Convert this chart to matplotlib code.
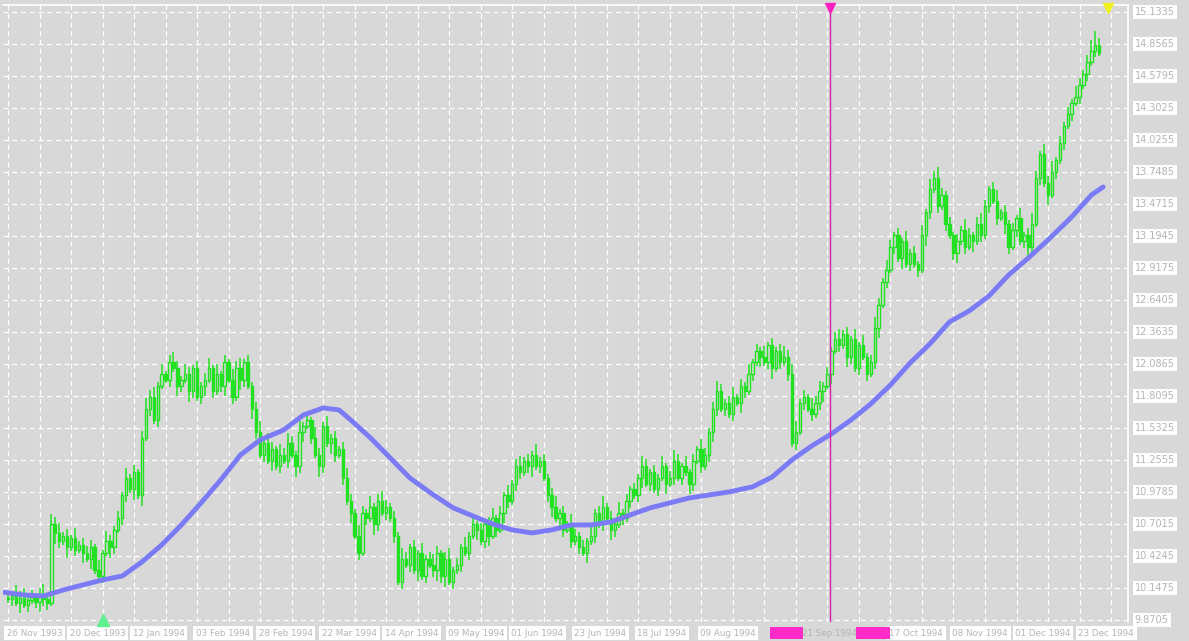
import matplotlib
matplotlib.use("Agg")
import matplotlib.pyplot as plt
import numpy as np

closes = [10.05,10.08,10.02,10.06,10.00,10.04,10.07,10.03,10.09,10.05,
          10.02,10.70,10.62,10.55,10.60,10.50,10.58,10.48,10.52,10.45,
          10.40,10.50,10.30,10.25,10.45,10.55,10.50,10.65,10.75,10.95,
          11.10,11.00,11.15,10.95,11.45,11.70,11.80,11.60,11.90,12.00,
          11.95,12.10,12.05,11.90,11.95,12.00,11.85,12.05,11.80,11.90,
          11.95,12.05,11.85,12.00,11.90,12.10,11.95,11.80,12.05,11.95,
          12.10,11.90,11.70,11.50,11.30,11.40,11.25,11.35,11.20,11.30,
          11.25,11.40,11.30,11.20,11.50,11.55,11.60,11.45,11.30,11.20,
          11.55,11.40,11.45,11.30,11.35,11.10,10.90,10.80,10.60,10.45,
          10.80,10.75,10.85,10.70,10.90,10.80,10.85,10.75,10.60,10.20,
          10.40,10.35,10.50,10.30,10.45,10.25,10.40,10.35,10.30,10.45,
          10.25,10.40,10.20,10.30,10.35,10.50,10.45,10.60,10.70,10.65,
          10.55,10.70,10.60,10.75,10.65,10.80,10.95,10.90,11.05,11.20,
          11.15,11.25,11.20,11.30,11.20,11.25,11.10,10.95,10.85,10.75,
          10.80,10.65,10.70,10.55,10.60,10.50,10.45,10.55,10.60,10.80,
          10.70,10.85,10.75,10.65,10.70,10.80,10.75,10.90,11.00,10.95,
          11.10,11.20,11.05,11.15,11.00,11.10,11.20,11.05,11.10,11.25,
          11.10,11.20,11.15,11.05,11.25,11.35,11.20,11.30,11.50,11.70,
          11.85,11.70,11.75,11.65,11.80,11.75,11.90,11.85,12.00,12.10,
          12.20,12.15,12.10,12.25,12.05,12.20,12.10,12.15,12.00,11.40,
          11.50,11.75,11.80,11.70,11.65,11.75,11.85,11.90,12.00,12.20,
          12.30,12.25,12.35,12.15,12.30,12.05,12.25,12.15,12.00,12.10,
          12.40,12.60,12.80,12.90,13.10,13.20,13.00,13.15,12.95,13.05,
          12.95,12.90,13.20,13.40,13.60,13.70,13.45,13.55,13.30,13.20,
          13.05,13.15,13.25,13.10,13.20,13.15,13.30,13.20,13.45,13.60,
          13.50,13.35,13.40,13.30,13.10,13.25,13.35,13.15,13.20,13.10,
          13.30,13.70,13.90,13.65,13.55,13.75,13.85,14.00,14.15,14.25,
          14.35,14.40,14.50,14.60,14.70,14.80,14.85,14.78]

wick_hi = ("2132312123" "1323121312" "2213132121" "3121232313" "1232132121"
           "2313121323" "1212313213" "2321312132" "1312123213" "2131232121"
           "3212131232" "1231213121" "2123121312" "3121312123" "1213212131"
           "2312131212" "1321213123" "2131213212" "3212312131" "2131212323"
           "3121323121" "2312131312" "3213212131" "2131323212" "1213212321"
           "2312121312" "3213231212" "13212342")
wick_lo = ("1213121232" "2132131213" "1312213212" "2131312121" "1213213212"
           "3121231213" "2132121312" "1213231213" "2132121312" "1213212121"
           "2121312123" "2312121213" "1231213212" "2123121231" "3212121312"
           "1213212121" "2312121312" "1213212123" "2121213212" "1312312121"
           "2121212313" "1213212121" "2312121312" "1213212121" "2312131212"
           "1213212123" "2121312121" "21212121")

ma_bar = [-1,4,9,14,19,24,29,34,39,44,49,54,59,64,70,75,80,84,87,92,
          97,102,108,113,118,123,128,133,138,143,148,153,158,163,168,173,178,183,189,194,
          199,204,209,214,219,224,229,234,239,244,249,254,259,264,270,275,278]
ma_val = [10.11,10.087,10.078,10.13,10.174,10.217,10.251,10.373,10.52,10.693,
          10.884,11.083,11.299,11.429,11.516,11.645,11.706,11.689,11.602,11.447,
          11.274,11.1,10.953,10.841,10.771,10.702,10.65,10.624,10.65,10.693,
          10.693,10.719,10.78,10.841,10.884,10.927,10.953,10.979,11.023,11.109,
          11.256,11.377,11.481,11.602,11.741,11.905,12.096,12.26,12.451,12.546,
          12.675,12.857,13.004,13.16,13.359,13.549,13.619]

date_labels = ["26 Nov 1993","20 Dec 1993","12 Jan 1994","03 Feb 1994","28 Feb 1994",
               "22 Mar 1994","14 Apr 1994","09 May 1994","01 Jun 1994","23 Jun 1994",
               "18 Jul 1994","09 Aug 1994","","","17 Oct 1994","08 Nov 1994","01 Dec 1994","23 Dec 1994"]
y_ticks = [9.8705,10.1475,10.4245,10.7015,10.9785,11.2555,11.5325,11.8095,12.0865,12.3635,
           12.6405,12.9175,13.1945,13.4715,13.7485,14.0255,14.3025,14.5795,14.8565,15.1335]

BG = "#d8d8d8"; GREEN = "#22e022"; TXT = "#b4b4b4"
fig = plt.figure(figsize=(11.89, 6.41), dpi=100, facecolor=BG)
ax = fig.add_axes([3/1189, 19/641, 1125/1189, 617/641], facecolor=BG)

n = len(closes)
x = np.arange(n)
c = np.array(closes)
o = np.concatenate([[closes[0]], c[:-1]])
hi = np.maximum(o, c) + np.array([int(d) for d in wick_hi[:n]]) * 0.03
lo = np.minimum(o, c) - np.array([int(d) for d in wick_lo[:n]]) * 0.03

ax.vlines(x, lo, hi, color=GREEN, lw=1.1, zorder=3)
up = c >= o
body = np.abs(c - o)
body = np.where(body < 0.01, 0.01, body)
ax.bar(x[up], body[up], bottom=np.minimum(o, c)[up], width=0.6,
       facecolor=BG, edgecolor=GREEN, lw=1.0, zorder=4)
ax.bar(x[~up], body[~up], bottom=np.minimum(o, c)[~up], width=0.6,
       facecolor=GREEN, edgecolor=GREEN, lw=1.0, zorder=4)

ax.plot(ma_bar, ma_val, color="#7b7bf7", lw=3.5, zorder=5, solid_capstyle="round")

vline_bar = 208.6
ax.axvline(vline_bar, color="#d020b0", lw=1, zorder=6)

xmin, xmax = -1.27, 284.3
ymin, ymax = 9.853, 15.194
ax.set_xlim(xmin, xmax); ax.set_ylim(ymin, ymax)

for k in range(0, 290, 8):
    ax.axvline(k, color="white", lw=0.9, ls=(0, (4, 3)), zorder=1)
for t in y_ticks:
    ax.axhline(t, color="white", lw=0.9, ls=(0, (4, 3)), zorder=1)

for s in ["left", "bottom"]:
    ax.spines[s].set_visible(False)
for s in ["top", "right"]:
    ax.spines[s].set_color("white"); ax.spines[s].set_linewidth(1.2)
ax.set_xticks([]); ax.set_yticks([])

for t in y_ticks:
    ax.text(1.006, (t - ymin) / (ymax - ymin), f"{t:.4f}", transform=ax.transAxes,
            ha="left", va="center", fontsize=7, color=TXT, clip_on=False,
            bbox=dict(facecolor="white", edgecolor="none", pad=1.5))

xt = ax.get_xaxis_transform()
for i, lab in enumerate(date_labels):
    if not lab:
        continue
    ax.text(16 * i - 0.3, -0.018, lab, transform=xt,
            ha="left", va="center", fontsize=6.3, color=TXT, clip_on=False,
            bbox=dict(facecolor="white", edgecolor="none", pad=1.8))
ax.add_patch(plt.Rectangle((193.4, -0.028), 8.4, 0.02, transform=xt,
             facecolor="#ff2ac8", edgecolor="none", clip_on=False, zorder=9))
ax.add_patch(plt.Rectangle((215.2, -0.028), 8.6, 0.02, transform=xt,
             facecolor="#ff2ac8", edgecolor="none", clip_on=False, zorder=9))
ax.text(vline_bar, -0.019, "21 Sep 1994", transform=xt,
        ha="center", va="center", fontsize=6.3, color=TXT, clip_on=False, zorder=10)

ax.plot([vline_bar], [0.995], marker="v", color="#ff20c0", ms=7, transform=xt, clip_on=False, zorder=7)
ax.plot([279.3], [0.995], marker="v", color="#f0f020", ms=7, transform=xt, clip_on=False, zorder=7)
ax.plot([24], [0.004], marker="^", color="#60f090", ms=8, transform=xt, clip_on=False, zorder=7)

fig.savefig("out.png", dpi=100, facecolor=BG)
